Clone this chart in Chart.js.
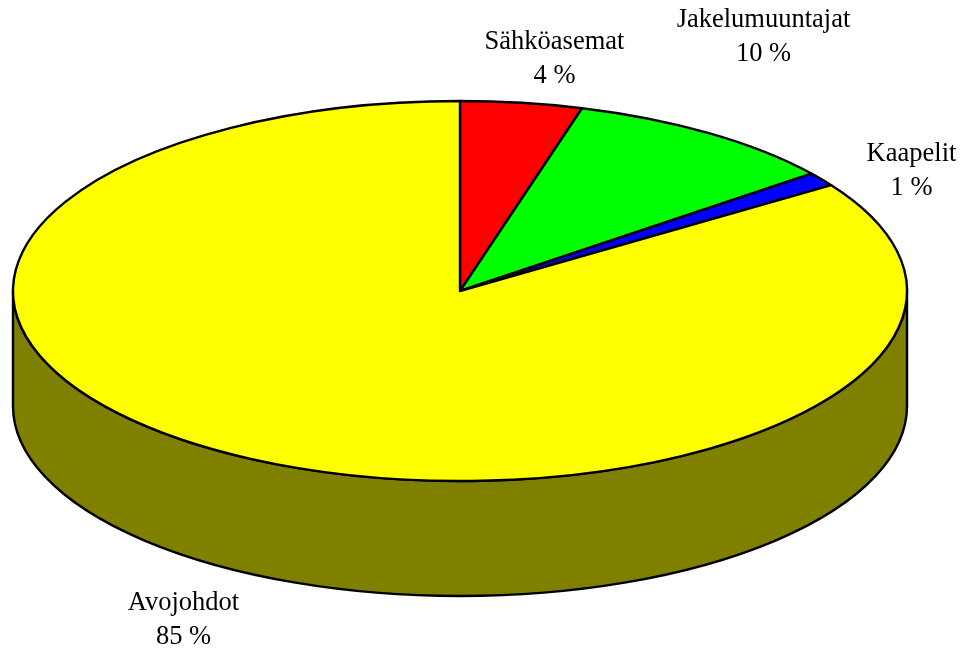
<!DOCTYPE html>
<html>
<head>
<meta charset="utf-8">
<style>
html,body{margin:0;padding:0;background:#fff;overflow:hidden}
canvas{display:block}
</style>
<script src="https://cdn.jsdelivr.net/npm/chart.js@4"></script>
</head>
<body>
<canvas id="c" width="964" height="649"></canvas>
<script>
const categories = ["Sähköasemat", "Jakelumuuntajat", "Kaapelit", "Avojohdot"];
const shares = [4.4, 10.0, 1.2, 84.4];
const percentLabels = ["4 %", "10 %", "1 %", "85 %"];
const sliceColors = ["#ff0000", "#00ff00", "#0000ff", "#ffff00"];
const wallColor = "#808000";

const view = { rx: 447, ry: 190, depth: 115 };
const labelAnchors = [
  { x: 554.5, y: 49 }, { x: 763.5, y: 27 }, { x: 911.5, y: 161 }, { x: 183.5, y: 610 }
];
const lineGap = 33.5;
const outlineWidth = 2.4;

const pie3d = {
  id: "pie3d",
  beforeDatasetsDraw(chart) {
    const ctx = chart.ctx;
    const arcs = chart.getDatasetMeta(0).data;
    const { x, y, outerRadius } = arcs[0];
    // side wall of the slices that face the viewer
    ctx.save();
    ctx.lineWidth = outlineWidth;
    ctx.lineJoin = "round";
    ctx.strokeStyle = "#000";
    ctx.fillStyle = wallColor;
    arcs.forEach(a => {
      const turn = 2 * Math.PI;
      const shift = Math.ceil((a.startAngle - Math.PI) / turn) * turn;
      const from = Math.max(a.startAngle, shift), to = Math.min(a.endAngle, Math.PI + shift);
      if (to <= from) return;
      ctx.beginPath();
      ctx.ellipse(x, y, view.rx, view.ry, 0, from, to);
      ctx.ellipse(x, y + view.depth, view.rx, view.ry, 0, to, from, true);
      ctx.closePath();
      ctx.fill();
      ctx.stroke();
    });
    ctx.restore();
    // flatten the library's own arcs into the tilted top face
    ctx.save();
    ctx.translate(x, y);
    ctx.scale(view.rx / outerRadius, view.ry / outerRadius);
    ctx.translate(-x, -y);
    const rawStroke = ctx.stroke;
    ctx.stroke = function () {
      ctx.save();
      ctx.setTransform(1, 0, 0, 1, 0, 0);
      rawStroke.call(ctx);
      ctx.restore();
    };
  },
  afterDatasetsDraw(chart) {
    const ctx = chart.ctx;
    delete ctx.stroke;
    ctx.restore();
    ctx.save();
    ctx.font = '26.5px "Liberation Serif"';
    ctx.fillStyle = "#000";
    ctx.textAlign = "center";
    ctx.textBaseline = "alphabetic";
    categories.forEach((name, i) => {
      const p = labelAnchors[i];
      ctx.fillText(name, p.x, p.y);
      ctx.fillText(percentLabels[i], p.x, p.y + lineGap);
    });
    ctx.restore();
  }
};

new Chart(document.getElementById("c"), {
  type: "pie",
  data: {
    labels: categories,
    datasets: [{
      data: shares,
      backgroundColor: sliceColors,
      borderColor: "#000",
      borderWidth: outlineWidth,
      borderJoinStyle: "round",
      hoverOffset: 0
    }]
  },
  options: {
    responsive: false,
    animation: false,
    events: [],
    layout: { padding: { left: 0, right: 44, top: 0, bottom: 67 } },
    plugins: { legend: { display: false }, tooltip: { enabled: false }, title: { display: false } }
  },
  plugins: [pie3d]
});
</script>
</body>
</html>
